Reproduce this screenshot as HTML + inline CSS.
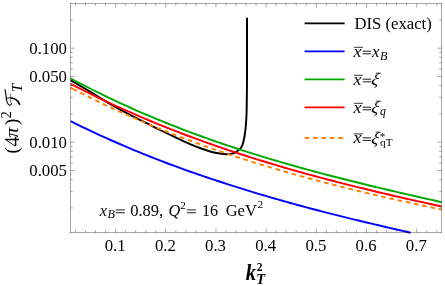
<!DOCTYPE html>
<html><head><meta charset="utf-8"><style>
html,body{margin:0;padding:0;background:#fff;}
svg{display:block;will-change:transform;font-family:"Liberation Serif",serif;}
</style></head><body>
<svg width="445" height="286" viewBox="0 0 445 286">
<rect width="445" height="286" fill="#fff"/>
<defs><clipPath id="c"><rect x="70.5" y="3.5" width="371.0" height="231.0"/></clipPath></defs>
<g clip-path="url(#c)" fill="none" stroke-width="1.95" stroke-linejoin="round">
<path d="M70.50,80.10 C73.75,82.03 83.42,87.75 90.00,91.70 C96.58,95.65 103.33,99.95 110.00,103.80 C116.67,107.65 123.72,111.48 130.00,114.80 C136.28,118.12 142.70,121.17 147.70,123.70 C152.70,126.23 155.45,127.75 160.00,130.00 C164.55,132.25 170.00,134.83 175.00,137.20 C180.00,139.57 185.40,142.23 190.00,144.20 C194.60,146.17 198.40,147.57 202.60,149.00 C206.80,150.43 211.22,151.92 215.20,152.80 C219.18,153.68 223.37,154.27 226.50,154.30 C229.63,154.33 231.70,153.95 234.00,153.00 C236.30,152.05 238.90,149.93 240.30,148.60 C241.70,147.27 241.78,146.60 242.40,145.00 C243.02,143.40 243.57,141.00 244.00,139.00 C244.43,137.00 244.72,135.00 245.00,133.00 C245.28,131.00 245.48,129.33 245.70,127.00 C245.92,124.67 246.13,122.17 246.30,119.00 C246.47,115.83 246.58,114.50 246.70,108.00 C246.82,101.50 246.95,89.67 247.00,80.00 C247.05,70.33 247.00,60.37 247.00,50.00 C247.00,39.63 247.00,23.17 247.00,17.80" stroke="#000"/>
<path d="M70.50,121.20 L74.50,123.17 L78.50,125.13 L82.50,127.06 L86.50,128.97 L90.50,130.86 L94.50,132.72 L98.50,134.57 L102.50,136.40 L106.50,138.20 L110.50,139.99 L114.50,141.75 L118.50,143.50 L122.50,145.22 L126.50,146.93 L130.50,148.62 L134.50,150.29 L138.50,151.94 L142.50,153.57 L146.50,155.18 L150.50,156.77 L154.50,158.35 L158.50,159.91 L162.50,161.45 L166.50,162.97 L170.50,164.48 L174.50,165.96 L178.50,167.43 L182.50,168.88 L186.50,170.32 L190.50,171.73 L194.50,173.13 L198.50,174.52 L202.50,175.89 L206.50,177.24 L210.50,178.59 L214.50,179.92 L218.50,181.23 L222.50,182.54 L226.50,183.83 L230.50,185.12 L234.50,186.39 L238.50,187.65 L242.50,188.90 L246.50,190.15 L250.50,191.38 L254.50,192.60 L258.50,193.81 L262.50,195.00 L266.50,196.19 L270.50,197.36 L274.50,198.52 L278.50,199.66 L282.50,200.80 L286.50,201.92 L290.50,203.04 L294.50,204.14 L298.50,205.23 L302.50,206.31 L306.50,207.38 L310.50,208.44 L314.50,209.50 L318.50,210.54 L322.50,211.57 L326.50,212.60 L330.50,213.62 L334.50,214.63 L338.50,215.64 L342.50,216.63 L346.50,217.62 L350.50,218.60 L354.50,219.58 L358.50,220.55 L362.50,221.51 L366.50,222.47 L370.50,223.42 L374.50,224.37 L378.50,225.31 L382.50,226.25 L386.50,227.18 L390.50,228.11 L394.50,229.03 L398.50,229.95 L402.50,230.86 L406.50,231.78 L410.50,232.68 L410.60,232.71" stroke="#0000ff"/>
<path d="M70.50,78.36 L74.50,80.49 L78.50,82.59 L82.50,84.67 L86.50,86.72 L90.50,88.75 L94.50,90.75 L98.50,92.73 L102.50,94.69 L106.50,96.62 L110.50,98.53 L114.50,100.42 L118.50,102.29 L122.50,104.13 L126.50,105.95 L130.50,107.75 L134.50,109.53 L138.50,111.29 L142.50,113.02 L146.50,114.74 L150.50,116.43 L154.50,118.11 L158.50,119.76 L162.50,121.40 L166.50,123.01 L170.50,124.61 L174.50,126.19 L178.50,127.75 L182.50,129.29 L186.50,130.81 L190.50,132.31 L194.50,133.80 L198.50,135.27 L202.50,136.72 L206.50,138.16 L210.50,139.58 L214.50,140.98 L218.50,142.37 L222.50,143.74 L226.50,145.10 L230.50,146.44 L234.50,147.76 L238.50,149.07 L242.50,150.37 L246.50,151.65 L250.50,152.92 L254.50,154.17 L258.50,155.41 L262.50,156.64 L266.50,157.86 L270.50,159.06 L274.50,160.25 L278.50,161.42 L282.50,162.59 L286.50,163.74 L290.50,164.89 L294.50,166.02 L298.50,167.14 L302.50,168.25 L306.50,169.35 L310.50,170.43 L314.50,171.51 L318.50,172.58 L322.50,173.64 L326.50,174.69 L330.50,175.74 L334.50,176.77 L338.50,177.80 L342.50,178.81 L346.50,179.82 L350.50,180.82 L354.50,181.82 L358.50,182.81 L362.50,183.79 L366.50,184.76 L370.50,185.73 L374.50,186.69 L378.50,187.65 L382.50,188.60 L386.50,189.54 L390.50,190.48 L394.50,191.42 L398.50,192.35 L402.50,193.28 L406.50,194.20 L410.50,195.12 L414.50,196.03 L418.50,196.95 L422.50,197.86 L426.50,198.76 L430.50,199.67 L434.50,200.57 L438.50,201.47 L442.00,202.26" stroke="#00a800"/>
<path d="M70.50,83.81 L74.50,85.87 L78.50,87.91 L82.50,89.93 L86.50,91.92 L90.50,93.90 L94.50,95.85 L98.50,97.78 L102.50,99.68 L106.50,101.57 L110.50,103.44 L114.50,105.28 L118.50,107.11 L122.50,108.92 L126.50,110.70 L130.50,112.47 L134.50,114.21 L138.50,115.94 L142.50,117.65 L146.50,119.34 L150.50,121.01 L154.50,122.66 L158.50,124.29 L162.50,125.91 L166.50,127.51 L170.50,129.09 L174.50,130.65 L178.50,132.19 L182.50,133.72 L186.50,135.23 L190.50,136.73 L194.50,138.21 L198.50,139.67 L202.50,141.12 L206.50,142.55 L210.50,143.96 L214.50,145.36 L218.50,146.75 L222.50,148.12 L226.50,149.47 L230.50,150.81 L234.50,152.14 L238.50,153.45 L242.50,154.75 L246.50,156.04 L250.50,157.31 L254.50,158.57 L258.50,159.81 L262.50,161.05 L266.50,162.27 L270.50,163.47 L274.50,164.67 L278.50,165.85 L282.50,167.03 L286.50,168.19 L290.50,169.34 L294.50,170.47 L298.50,171.60 L302.50,172.72 L306.50,173.82 L310.50,174.92 L314.50,176.00 L318.50,177.08 L322.50,178.15 L326.50,179.20 L330.50,180.25 L334.50,181.29 L338.50,182.32 L342.50,183.34 L346.50,184.35 L350.50,185.36 L354.50,186.35 L358.50,187.34 L362.50,188.32 L366.50,189.30 L370.50,190.27 L374.50,191.23 L378.50,192.18 L382.50,193.13 L386.50,194.07 L390.50,195.00 L394.50,195.93 L398.50,196.85 L402.50,197.77 L406.50,198.68 L410.50,199.59 L414.50,200.49 L418.50,201.39 L422.50,202.28 L426.50,203.17 L430.50,204.06 L434.50,204.94 L438.50,205.82 L442.00,206.59" stroke="#ff0000"/>
<path d="M70.50,87.68 L74.50,89.75 L78.50,91.80 L82.50,93.83 L86.50,95.83 L90.50,97.82 L94.50,99.78 L98.50,101.71 L102.50,103.63 L106.50,105.53 L110.50,107.40 L114.50,109.26 L118.50,111.09 L122.50,112.90 L126.50,114.69 L130.50,116.47 L134.50,118.22 L138.50,119.95 L142.50,121.66 L146.50,123.36 L150.50,125.03 L154.50,126.69 L158.50,128.33 L162.50,129.94 L166.50,131.55 L170.50,133.13 L174.50,134.69 L178.50,136.24 L182.50,137.77 L186.50,139.28 L190.50,140.78 L194.50,142.26 L198.50,143.72 L202.50,145.17 L206.50,146.59 L210.50,148.01 L214.50,149.41 L218.50,150.79 L222.50,152.16 L226.50,153.51 L230.50,154.85 L234.50,156.17 L238.50,157.48 L242.50,158.77 L246.50,160.05 L250.50,161.32 L254.50,162.57 L258.50,163.81 L262.50,165.03 L266.50,166.24 L270.50,167.44 L274.50,168.63 L278.50,169.80 L282.50,170.97 L286.50,172.12 L290.50,173.25 L294.50,174.38 L298.50,175.50 L302.50,176.60 L306.50,177.69 L310.50,178.78 L314.50,179.85 L318.50,180.91 L322.50,181.96 L326.50,183.00 L330.50,184.03 L334.50,185.06 L338.50,186.07 L342.50,187.07 L346.50,188.07 L350.50,189.05 L354.50,190.03 L358.50,191.00 L362.50,191.96 L366.50,192.91 L370.50,193.86 L374.50,194.80 L378.50,195.73 L382.50,196.65 L386.50,197.57 L390.50,198.48 L394.50,199.38 L398.50,200.28 L402.50,201.17 L406.50,202.06 L410.50,202.94 L414.50,203.81 L418.50,204.68 L422.50,205.54 L426.50,206.40 L430.50,207.26 L434.50,208.11 L438.50,208.96 L442.00,209.69" stroke="#ff8000" stroke-dasharray="7.1 3.8 4.6 3.8 4.6 3.8 4.6 3.8 4.6 3.8 4.6 3.8 4.6 3.8 4.6 3.8 4.6 3.8 4.6 3.8 4.6 3.8 4.6 3.8 4.6 3.8 4.6 3.8 4.6 3.8 4.6 3.8 4.6 3.8 4.6 3.8 4.6 3.8 4.6 3.8 4.6 3.8 4.6 3.8 4.6 3.8 4.6 3.8 4.6 3.8 4.6 3.8 4.6 3.8 4.6 3.8 4.6 3.8 4.6 3.8 4.6 3.8 4.6 3.8 4.6 3.8 4.6 3.8 4.6 3.8 4.6 3.8 4.6 3.8 4.6 3.8 4.6 3.8 4.6 3.8 4.6 3.8 4.6 3.8 4.6 3.8 4.6 3.8 4.6 3.8 4.6 3.8 4.6 3.8 4.6 3.8 4.6 3.8 4.6 3.8 4.6 3.8 4.6 3.8 4.6 3.8 4.6 3.8 4.6 3.8 4.6 3.8 4.6 3.8 4.6 3.8 4.6 3.8 4.6 3.8 4.6 3.8"/>
</g>
<g stroke="#000" stroke-opacity="0.34" stroke-width="1" fill="none">
<path d="M70.5,3.0V233.0M441.5,3.0V233.0M70.0,3.5H442.0M70.0,232.5H442.0"/>
<line x1="75.44" y1="232.5" x2="75.44" y2="230.2"/><line x1="75.44" y1="3.5" x2="75.44" y2="5.8"/><line x1="85.47" y1="232.5" x2="85.47" y2="230.2"/><line x1="85.47" y1="3.5" x2="85.47" y2="5.8"/><line x1="95.51" y1="232.5" x2="95.51" y2="230.2"/><line x1="95.51" y1="3.5" x2="95.51" y2="5.8"/><line x1="105.54" y1="232.5" x2="105.54" y2="230.2"/><line x1="105.54" y1="3.5" x2="105.54" y2="5.8"/><line x1="115.58" y1="232.5" x2="115.58" y2="228.5"/><line x1="115.58" y1="3.5" x2="115.58" y2="7.5"/><line x1="125.62" y1="232.5" x2="125.62" y2="230.2"/><line x1="125.62" y1="3.5" x2="125.62" y2="5.8"/><line x1="135.65" y1="232.5" x2="135.65" y2="230.2"/><line x1="135.65" y1="3.5" x2="135.65" y2="5.8"/><line x1="145.69" y1="232.5" x2="145.69" y2="230.2"/><line x1="145.69" y1="3.5" x2="145.69" y2="5.8"/><line x1="155.72" y1="232.5" x2="155.72" y2="230.2"/><line x1="155.72" y1="3.5" x2="155.72" y2="5.8"/><line x1="165.76" y1="232.5" x2="165.76" y2="228.5"/><line x1="165.76" y1="3.5" x2="165.76" y2="7.5"/><line x1="175.80" y1="232.5" x2="175.80" y2="230.2"/><line x1="175.80" y1="3.5" x2="175.80" y2="5.8"/><line x1="185.83" y1="232.5" x2="185.83" y2="230.2"/><line x1="185.83" y1="3.5" x2="185.83" y2="5.8"/><line x1="195.87" y1="232.5" x2="195.87" y2="230.2"/><line x1="195.87" y1="3.5" x2="195.87" y2="5.8"/><line x1="205.90" y1="232.5" x2="205.90" y2="230.2"/><line x1="205.90" y1="3.5" x2="205.90" y2="5.8"/><line x1="215.94" y1="232.5" x2="215.94" y2="228.5"/><line x1="215.94" y1="3.5" x2="215.94" y2="7.5"/><line x1="225.98" y1="232.5" x2="225.98" y2="230.2"/><line x1="225.98" y1="3.5" x2="225.98" y2="5.8"/><line x1="236.01" y1="232.5" x2="236.01" y2="230.2"/><line x1="236.01" y1="3.5" x2="236.01" y2="5.8"/><line x1="246.05" y1="232.5" x2="246.05" y2="230.2"/><line x1="246.05" y1="3.5" x2="246.05" y2="5.8"/><line x1="256.08" y1="232.5" x2="256.08" y2="230.2"/><line x1="256.08" y1="3.5" x2="256.08" y2="5.8"/><line x1="266.12" y1="232.5" x2="266.12" y2="228.5"/><line x1="266.12" y1="3.5" x2="266.12" y2="7.5"/><line x1="276.16" y1="232.5" x2="276.16" y2="230.2"/><line x1="276.16" y1="3.5" x2="276.16" y2="5.8"/><line x1="286.19" y1="232.5" x2="286.19" y2="230.2"/><line x1="286.19" y1="3.5" x2="286.19" y2="5.8"/><line x1="296.23" y1="232.5" x2="296.23" y2="230.2"/><line x1="296.23" y1="3.5" x2="296.23" y2="5.8"/><line x1="306.26" y1="232.5" x2="306.26" y2="230.2"/><line x1="306.26" y1="3.5" x2="306.26" y2="5.8"/><line x1="316.30" y1="232.5" x2="316.30" y2="228.5"/><line x1="316.30" y1="3.5" x2="316.30" y2="7.5"/><line x1="326.34" y1="232.5" x2="326.34" y2="230.2"/><line x1="326.34" y1="3.5" x2="326.34" y2="5.8"/><line x1="336.37" y1="232.5" x2="336.37" y2="230.2"/><line x1="336.37" y1="3.5" x2="336.37" y2="5.8"/><line x1="346.41" y1="232.5" x2="346.41" y2="230.2"/><line x1="346.41" y1="3.5" x2="346.41" y2="5.8"/><line x1="356.44" y1="232.5" x2="356.44" y2="230.2"/><line x1="356.44" y1="3.5" x2="356.44" y2="5.8"/><line x1="366.48" y1="232.5" x2="366.48" y2="228.5"/><line x1="366.48" y1="3.5" x2="366.48" y2="7.5"/><line x1="376.52" y1="232.5" x2="376.52" y2="230.2"/><line x1="376.52" y1="3.5" x2="376.52" y2="5.8"/><line x1="386.55" y1="232.5" x2="386.55" y2="230.2"/><line x1="386.55" y1="3.5" x2="386.55" y2="5.8"/><line x1="396.59" y1="232.5" x2="396.59" y2="230.2"/><line x1="396.59" y1="3.5" x2="396.59" y2="5.8"/><line x1="406.62" y1="232.5" x2="406.62" y2="230.2"/><line x1="406.62" y1="3.5" x2="406.62" y2="5.8"/><line x1="416.66" y1="232.5" x2="416.66" y2="228.5"/><line x1="416.66" y1="3.5" x2="416.66" y2="7.5"/><line x1="426.70" y1="232.5" x2="426.70" y2="230.2"/><line x1="426.70" y1="3.5" x2="426.70" y2="5.8"/><line x1="436.73" y1="232.5" x2="436.73" y2="230.2"/><line x1="436.73" y1="3.5" x2="436.73" y2="5.8"/><line x1="70.5" y1="48.20" x2="74.5" y2="48.20"/><line x1="441.5" y1="48.20" x2="437.5" y2="48.20"/><line x1="70.5" y1="76.50" x2="74.5" y2="76.50"/><line x1="441.5" y1="76.50" x2="437.5" y2="76.50"/><line x1="70.5" y1="142.20" x2="74.5" y2="142.20"/><line x1="441.5" y1="142.20" x2="437.5" y2="142.20"/><line x1="70.5" y1="170.50" x2="74.5" y2="170.50"/><line x1="441.5" y1="170.50" x2="437.5" y2="170.50"/><line x1="70.5" y1="19.90" x2="72.8" y2="19.90"/><line x1="441.5" y1="19.90" x2="439.2" y2="19.90"/><line x1="70.5" y1="52.50" x2="72.8" y2="52.50"/><line x1="441.5" y1="52.50" x2="439.2" y2="52.50"/><line x1="70.5" y1="57.31" x2="72.8" y2="57.31"/><line x1="441.5" y1="57.31" x2="439.2" y2="57.31"/><line x1="70.5" y1="62.76" x2="72.8" y2="62.76"/><line x1="441.5" y1="62.76" x2="439.2" y2="62.76"/><line x1="70.5" y1="69.05" x2="72.8" y2="69.05"/><line x1="441.5" y1="69.05" x2="439.2" y2="69.05"/><line x1="70.5" y1="85.61" x2="72.8" y2="85.61"/><line x1="441.5" y1="85.61" x2="439.2" y2="85.61"/><line x1="70.5" y1="97.35" x2="72.8" y2="97.35"/><line x1="441.5" y1="97.35" x2="439.2" y2="97.35"/><line x1="70.5" y1="113.90" x2="72.8" y2="113.90"/><line x1="441.5" y1="113.90" x2="439.2" y2="113.90"/><line x1="70.5" y1="146.50" x2="72.8" y2="146.50"/><line x1="441.5" y1="146.50" x2="439.2" y2="146.50"/><line x1="70.5" y1="151.31" x2="72.8" y2="151.31"/><line x1="441.5" y1="151.31" x2="439.2" y2="151.31"/><line x1="70.5" y1="156.76" x2="72.8" y2="156.76"/><line x1="441.5" y1="156.76" x2="439.2" y2="156.76"/><line x1="70.5" y1="163.05" x2="72.8" y2="163.05"/><line x1="441.5" y1="163.05" x2="439.2" y2="163.05"/><line x1="70.5" y1="179.61" x2="72.8" y2="179.61"/><line x1="441.5" y1="179.61" x2="439.2" y2="179.61"/><line x1="70.5" y1="191.35" x2="72.8" y2="191.35"/><line x1="441.5" y1="191.35" x2="439.2" y2="191.35"/><line x1="70.5" y1="207.90" x2="72.8" y2="207.90"/><line x1="441.5" y1="207.90" x2="439.2" y2="207.90"/>
</g>
<g font-size="16.8px" fill="#000"><text x="115.2" y="251.4" text-anchor="middle">0.1</text><text x="165.4" y="251.4" text-anchor="middle">0.2</text><text x="215.5" y="251.4" text-anchor="middle">0.3</text><text x="265.7" y="251.4" text-anchor="middle">0.4</text><text x="315.9" y="251.4" text-anchor="middle">0.5</text><text x="366.1" y="251.4" text-anchor="middle">0.6</text><text x="416.3" y="251.4" text-anchor="middle">0.7</text><text x="67" y="54.0" text-anchor="end">0.100</text><text x="67" y="82.3" text-anchor="end">0.050</text><text x="67" y="148.0" text-anchor="end">0.010</text><text x="67" y="176.3" text-anchor="end">0.005</text></g>
<line x1="304.6" y1="23.400000000000002" x2="344.6" y2="23.400000000000002" stroke="#000" stroke-width="1.85" />
<line x1="304.6" y1="51.3" x2="344.6" y2="51.3" stroke="#0000ff" stroke-width="1.85" />
<line x1="304.6" y1="79.3" x2="344.6" y2="79.3" stroke="#00a800" stroke-width="1.85" />
<line x1="304.6" y1="107.3" x2="344.6" y2="107.3" stroke="#ff0000" stroke-width="1.85" />
<line x1="304.6" y1="138.0" x2="344.6" y2="138.0" stroke="#ff8000" stroke-width="1.85" stroke-dasharray="4.6 3.8"/>
<text x="354.4" y="28.6" font-size="16.7px">DIS (exact)</text><text transform="translate(353.5,56.7) scale(1.07,1)" font-size="16.7px" font-style="italic">x</text><line x1="353.9" y1="47.30" x2="362.9" y2="47.30" stroke="#000" stroke-width="0.8"/><path d="M362.7,51.20H371.1M362.7,53.80H371.1" stroke="#000" stroke-width="0.9"/><text x="371.95" y="56.7" font-size="16.7px" font-style="italic">x</text><text x="380" y="59.70" font-size="12.2px" font-style="italic">B</text><text transform="translate(353.5,84.7) scale(1.07,1)" font-size="16.7px" font-style="italic">x</text><line x1="353.9" y1="75.30" x2="362.9" y2="75.30" stroke="#000" stroke-width="0.8"/><path d="M362.7,79.20H371.1M362.7,81.80H371.1" stroke="#000" stroke-width="0.9"/><text transform="translate(370.6,85.40) skewX(-12) scale(1.08,1.06)" font-size="16.7px" font-style="italic">ξ</text><text transform="translate(353.5,112.7) scale(1.07,1)" font-size="16.7px" font-style="italic">x</text><line x1="353.9" y1="103.30" x2="362.9" y2="103.30" stroke="#000" stroke-width="0.8"/><path d="M362.7,107.20H371.1M362.7,109.80H371.1" stroke="#000" stroke-width="0.9"/><text transform="translate(370.6,113.40) skewX(-12) scale(1.08,1.06)" font-size="16.7px" font-style="italic">ξ</text><text x="379.9" y="115.00" font-size="11.6px" font-style="italic">q</text><text transform="translate(353.5,143.3) scale(1.07,1)" font-size="16.7px" font-style="italic">x</text><line x1="353.9" y1="133.90" x2="362.9" y2="133.90" stroke="#000" stroke-width="0.8"/><path d="M362.7,137.80H371.1M362.7,140.40H371.1" stroke="#000" stroke-width="0.9"/><text transform="translate(370.6,144.00) skewX(-12) scale(1.08,1.06)" font-size="16.7px" font-style="italic">ξ</text><text x="380" y="146.30" font-size="11.2px" textLength="12.6">qT</text><text x="379.7" y="140.30" font-size="11px">*</text>
<g font-size="16.2px">
<text x="99.85" y="215.6" font-style="italic">x</text>
<text x="107.4" y="217.8" font-size="12.2px" font-style="italic">B</text>
<path d="M115.8,209.9H124.8M115.8,212.75H124.8" stroke="#000" stroke-width="0.9"/>
<text x="130.2" y="215.6" font-size="16.5px">0.89,</text>
<text x="168.6" y="215.6" font-style="italic">Q</text>
<text x="180.3" y="208.7" font-size="11.2px">2</text>
<path d="M186.9,209.9H195.9M186.9,212.75H195.9" stroke="#000" stroke-width="0.9"/>
<text x="202" y="215.6">16</text>
<text x="225.7" y="215.6" font-size="16.5px">GeV</text>
<text x="257.5" y="207.9" font-size="11.2px">2</text>
</g>
<text transform="translate(245.7,279.8) scale(1,1.08)" font-size="20.5px" font-weight="bold" font-style="italic">k</text>
<text x="256.8" y="270.7" font-size="11.5px" font-weight="bold">2</text>
<text x="256.3" y="284.2" font-size="14.4px" font-weight="bold" font-style="italic">T</text>
<g transform="translate(19.4,152.6) rotate(-90)" font-size="20.5px">
<text x="-0.8" y="-1.4" font-size="18.8px">(</text>
<text x="5.9" y="-0.3">4</text>
<text transform="translate(15.2,-1.3) scale(1.1,1)" font-size="18px" font-style="italic">π</text>
<text x="27.7" y="-1.4" font-size="18.8px">)</text>
<text x="34.2" y="-8" font-size="14.5px">2</text>
<text x="60.6" y="2.4" font-size="14.5px" font-style="italic">T</text>
</g>
<g fill="none" stroke="#000" stroke-linecap="round" stroke-linejoin="round">
<path d="M5.0,89.5 C5.6,92 6.1,96 6.6,100 C7.0,103 8.6,105.4 10.0,105.2 C10.8,105 11.3,104.3 11.4,103.5" stroke-width="1.1"/>
<path d="M5.9,98.7 C8,97.6 11,97.6 13.5,98.5" stroke-width="1.0"/>
<path d="M12,98.0 C15.5,98.9 18.4,101.2 19.6,104.2" stroke-width="1.7"/>
<path d="M10.6,94 L10.8,102.3" stroke-width="0.8" stroke-opacity="0.75"/>
</g>
</svg>
</body></html>
